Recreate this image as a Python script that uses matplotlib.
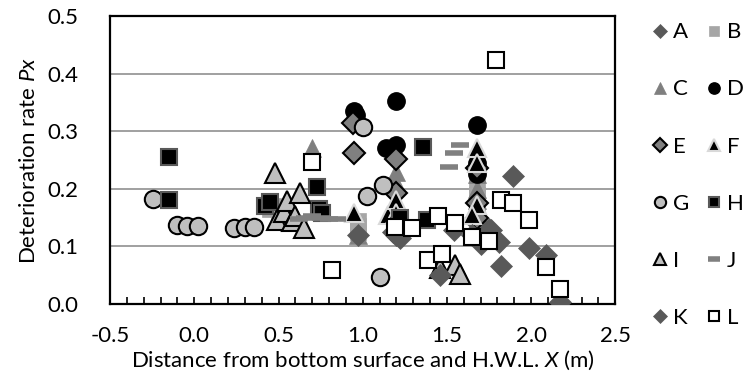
import numpy as np
import matplotlib
matplotlib.use('Agg')
import matplotlib.pyplot as plt

plt.rcParams['font.family'] = ['Lato', 'DejaVu Sans']
plt.rcParams['mathtext.fontset'] = 'custom'
plt.rcParams['mathtext.rm'] = 'Lato'
plt.rcParams['mathtext.it'] = 'Lato:italic'

# series values
A_x = [1.20, 1.22, 1.54, 1.68, 1.76, 1.81, 1.82, 1.89, 1.99, 2.09, 2.17]
A_y = [0.120, 0.130, 0.128, 0.140, 0.128, 0.108, 0.066, 0.222, 0.097, 0.085, 0.004]
B_x = [0.45, 0.47, 0.50, 0.97, 0.97, 0.97, 1.20, 1.20, 1.68, 1.68, 1.68, 1.68]
B_y = [0.165, 0.170, 0.160, 0.125, 0.135, 0.145, 0.140, 0.155, 0.160, 0.175, 0.190, 0.205]
C_x = [0.70, 0.97, 1.20, 1.20, 1.68, 1.68, 1.68]
C_y = [0.270, 0.120, 0.230, 0.210, 0.225, 0.200, 0.180]
D_x = [0.95, 0.96, 1.14, 1.20, 1.20, 1.68, 1.68, 1.68]
D_y = [0.335, 0.328, 0.270, 0.352, 0.276, 0.310, 0.245, 0.225]
E_x = [0.94, 0.95, 1.20, 1.20, 1.68, 1.68, 1.68]
E_y = [0.315, 0.263, 0.252, 0.192, 0.237, 0.175, 0.150]
F_x = [0.95, 1.15, 1.20, 1.20, 1.68, 1.68, 1.68, 1.65]
F_y = [0.158, 0.155, 0.180, 0.158, 0.270, 0.245, 0.172, 0.155]
G_x = [-0.245, -0.10, -0.044, 0.019, 0.233, 0.302, 0.356, 1.00, 1.025, 1.10, 1.12]
G_y = [0.182, 0.137, 0.135, 0.135, 0.132, 0.133, 0.133, 0.308, 0.188, 0.047, 0.207]
H_x = [-0.15, -0.15, 0.42, 0.45, 0.73, 0.74, 0.76, 1.22, 1.36, 1.38]
H_y = [0.255, 0.180, 0.170, 0.177, 0.204, 0.165, 0.158, 0.150, 0.272, 0.146]
I_x = [0.48, 0.49, 0.53, 0.55, 0.58, 0.60, 0.63, 0.65, 1.46, 1.55, 1.58]
I_y = [0.228, 0.146, 0.160, 0.178, 0.145, 0.152, 0.192, 0.132, 0.062, 0.068, 0.053]
J_x = [0.62, 0.66, 0.70, 0.75, 0.80, 0.85, 1.51, 1.54, 1.58]
J_y = [0.148, 0.150, 0.152, 0.150, 0.148, 0.147, 0.238, 0.262, 0.276]
K_x = [0.97, 1.18, 1.22, 1.46, 1.65, 1.70, 1.75]
K_y = [0.120, 0.125, 0.115, 0.050, 0.120, 0.105, 0.130]
L_x = [0.70, 0.82, 1.19, 1.29, 1.39, 1.45, 1.47, 1.55, 1.65, 1.75, 1.79, 1.82, 1.89, 1.99, 2.09, 2.17]
L_y = [0.247, 0.059, 0.134, 0.132, 0.076, 0.152, 0.087, 0.141, 0.116, 0.110, 0.424, 0.180, 0.175, 0.146, 0.065, 0.026]

x_ticks = [-0.5, 0.0, 0.5, 1.0, 1.5, 2.0, 2.5]
y_ticks = [0.0, 0.1, 0.2, 0.3, 0.4, 0.5]

fig = plt.figure(figsize=(7.44, 3.81), dpi=100)
ax = fig.add_axes([0.148, 0.202, 0.679, 0.756])

# name, x, y, marker, size, face, edge, edge width
styles = [
    ('A', A_x, A_y, 'D', 11, '#595959', '#595959', 0.5),
    ('B', B_x, B_y, 's', 12, '#a6a6a6', '#a6a6a6', 0.5),
    ('C', C_x, C_y, '^', 13, '#7f7f7f', '#7f7f7f', 0.5),
    ('D', D_x, D_y, 'o', 12.5, 'black', 'black', 1.0),
    ('E', E_x, E_y, 'D', 11, '#808080', 'black', 1.5),
    ('F', F_x, F_y, '^', 13, 'black', '#d9d9d9', 1.5),
    ('G', G_x, G_y, 'o', 12.5, '#bfbfbf', 'black', 1.5),
    ('H', H_x, H_y, 's', 12, 'black', '#595959', 1.5),
    ('I', I_x, I_y, '^', 14, '#bfbfbf', 'black', 1.5),
    ('J', J_x, J_y, '_', 13, '#808080', '#808080', 4.0),
    ('K', K_x, K_y, 'D', 11, '#595959', '#595959', 0.5),
    ('L', L_x, L_y, 's', 12, 'white', 'black', 1.5),
]

handles = {}
for name, xs, ys, mk, ms, fc, ec, ew in styles:
    h, = ax.plot(xs, ys, linestyle='none', marker=mk, markersize=ms,
                 markerfacecolor=fc, markeredgecolor=ec, markeredgewidth=ew,
                 label=name, zorder=3)
    handles[name] = h

ax.set_xlim(-0.5, 2.5)
ax.set_ylim(0.0, 0.5)
ax.set_xticks(x_ticks)
ax.set_xticklabels([f'{v:.1f}' for v in x_ticks])
ax.set_xticks(np.arange(-0.5, 2.51, 0.1), minor=True)
ax.set_yticks(y_ticks)
ax.set_yticklabels([f'{v:.1f}' for v in y_ticks])
ax.tick_params(axis='x', which='both', direction='in', length=5, width=1.2,
               labelsize=16, pad=16)
ax.tick_params(axis='y', length=0, labelsize=16, pad=23)
ax.grid(axis='y', color='#a0a0a0', linewidth=1.4, zorder=0)
ax.set_axisbelow(True)
for s in ax.spines.values():
    s.set_linewidth(1.6)
    s.set_color('black')

ax.set_xlabel('Distance from bottom surface and H.W.L. $\\mathit{X}$ (m)', fontsize=16, labelpad=2)
ax.set_ylabel('Deterioration rate $\\mathit{Px}$', fontsize=16, labelpad=6)

order = ['A', 'C', 'E', 'G', 'I', 'K', 'B', 'D', 'F', 'H', 'J', 'L']
ax.legend([handles[n] for n in order], order, ncol=2, loc='upper left',
          bbox_to_anchor=(1.059, 1.009), frameon=False, fontsize=16,
          markerscale=0.65, handlelength=0.5, handletextpad=0.35,
          columnspacing=0.85, labelspacing=1.67, borderaxespad=0)

fig.savefig('out.png', dpi=100)
